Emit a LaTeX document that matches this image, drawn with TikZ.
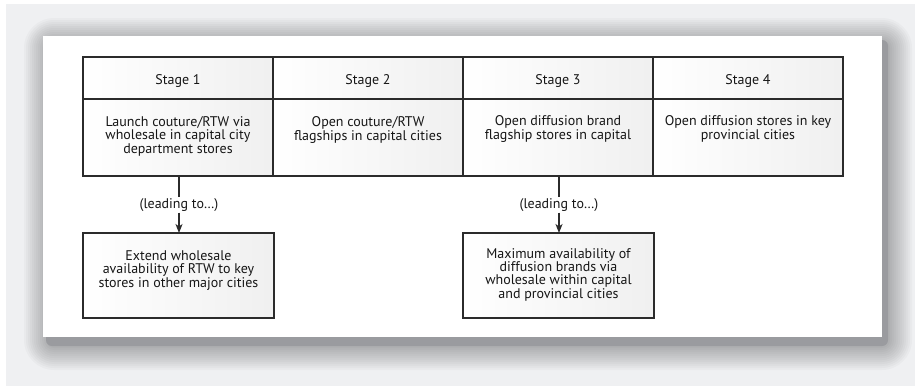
\documentclass[tikz,border=0pt]{standalone}
\usepackage{fontspec}
\setmainfont{PT Sans}
\usetikzlibrary{arrows.meta}
\definecolor{bgc}{HTML}{EFF0F2}
\definecolor{shc}{HTML}{9A9B9F}
\definecolor{linec}{HTML}{2B2B2B}
\definecolor{txtc}{HTML}{161616}
\begin{document}
\begin{tikzpicture}[x=1pt,y=-1pt,
  cellbox/.style={draw=linec, line width=1.2pt, left color=white, right color=black!6,
    minimum width=190pt, inner sep=0pt, outer sep=0pt},
  headbox/.style={cellbox, minimum height=42pt, text=txtc,
    font=\fontsize{14}{12}\selectfont, text height=12pt, text depth=0pt},
  bodybox/.style={cellbox, minimum height=77pt},
  resultbox/.style={cellbox, minimum width=191pt, minimum height=85pt},
  celltext/.style={anchor=base, align=center, inner sep=0pt, text=txtc,
    font=\fontsize{14}{12.6}\selectfont},
  restext/.style={anchor=base, align=center, inner sep=0pt, text=txtc,
    font=\fontsize{14}{13.3}\selectfont},
  leadlabel/.style={inner xsep=0pt, inner ysep=1pt, text=txtc,
    font=\fontsize{14}{13}\selectfont},
  link/.style={draw=linec, line width=1.2pt},
  linkarrow/.style={link, -{Stealth[length=9pt,width=7pt,inset=2.5pt]}}
]
\useasboundingbox (0,0) rectangle (915,386);
\fill[white] (0,0) rectangle (915,386);
\fill[bgc] (6,4) rectangle (915,386);
% soft shadow
\foreach \k [evaluate=\k as \r using 6+2*\k] in {12,11,...,1}{
  \fill[black, opacity=0.022, rounded corners=\r pt]
    (48-2*\k, 42-2*\k) rectangle (888+2*\k, 346+2*\k);
}
\fill[shc, rounded corners=6pt] (46,40) rectangle (888,346);
\fill[white] (43,36) rectangle (882,337);

% header row
\node[headbox] (h1) at (178,78) {Stage 1};
\node[headbox] (h2) at (368,78) {Stage 2};
\node[headbox] (h3) at (558,78) {Stage 3};
\node[headbox] (h4) at (748,78) {Stage 4};
% body row
\node[bodybox] (b1) at (178,137.5) {};
\node[bodybox] (b2) at (368,137.5) {};
\node[bodybox] (b3) at (558,137.5) {};
\node[bodybox] (b4) at (748,137.5) {};
% (base anchor = baseline of the last line)
\node[celltext] (t1) at (178,153) {Launch couture/RTW via\\wholesale in capital city\\department stores};
\node[celltext] (t2) at (368,140.5) {Open couture/RTW\\flagships in capital cities};
\node[celltext] (t3) at (558,139.5) {Open diffusion brand\\flagship stores in capital};
\node[celltext] (t4) at (748,139.5) {Open diffusion stores in key\\provincial cities};

% result boxes
\node[resultbox] (r1) at (178.5,275.5) {};
\node[resultbox] (r2) at (558.5,275.5) {};
\node[restext] (rt1) at (178.5,287) {Extend wholesale\\availability of RTW to key\\stores in other major cities};
\node[restext] (rt2) at (558.5,298) {Maximum availability of\\diffusion brands via\\wholesale within capital\\and provincial cities};

% connectors
\node[leadlabel] (l1) at (179,205) {(leading to…)};
\node[leadlabel] (l2) at (559,205) {(leading to…)};
\draw[link] (b1.south -| l1) -- (l1.north);
\draw[linkarrow] (l1.south) -- (l1.south |- r1.north);
\draw[link] (b3.south -| l2) -- (l2.north);
\draw[linkarrow] (l2.south) -- (l2.south |- r2.north);
\end{tikzpicture}
\end{document}
